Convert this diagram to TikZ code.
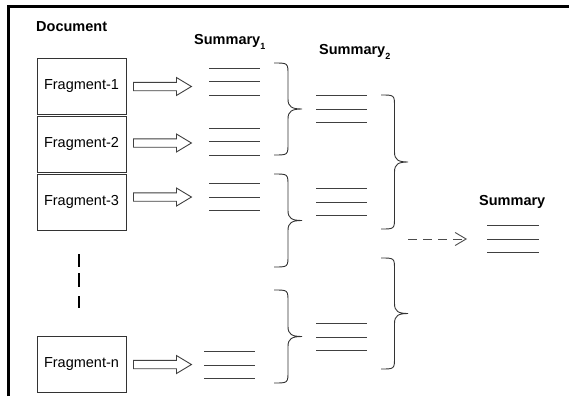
\documentclass[tikz,border=0pt]{standalone}
\usepackage{fontspec}
\setmainfont{Liberation Sans}
\usetikzlibrary{calc,arrows.meta}
\newcommand\mybrace[4]{%
  \pgfmathsetmacro\bv{#1+#4/2}%
  \pgfmathsetmacro\bt{#1+#4}%
  \pgfmathsetmacro\bm{(#2+#3)/2}%
  \draw[bracestyle] (#1,#2) .. controls (\bv,#2) .. (\bv,#2+12) -- (\bv,\bm-10)
    .. controls (\bv,\bm-2) and (\bv+4,\bm) .. (\bt,\bm)
    .. controls (\bv+4,\bm) and (\bv,\bm+2) .. (\bv,\bm+10) -- (\bv,#3-12)
    .. controls (\bv,#3) .. (#1,#3);}
\newcommand\grp[4][51]{%
  \node[grpbox,minimum width=#1pt] (#2) at (#3,#4) {};
  \draw[sline] (#2.north west) -- (#2.north east);
  \draw[sline] (#2.west) -- (#2.east);
  \draw[sline] (#2.south west) -- (#2.south east);}
\newcommand\barrow[2]{%
  \draw[blockarrow] ($(#1.east)+(7,#2)$) ++(0,-4.2) -- ++(43,0) -- ++(0,-4.8)
    -- ++(15,9) -- ++(-15,9) -- ++(0,-4.8) -- ++(-43,0) -- cycle;}
\tikzset{
  frag/.style={draw=black!80, line width=0.9pt, minimum width=89pt, minimum height=56pt, inner sep=0pt,
    font=\fontsize{14.5}{17}\selectfont},
  grpbox/.style={minimum height=27pt, inner sep=0pt, outer sep=0pt},
  sline/.style={line width=0.9pt, draw=black!75},
  bracestyle/.style={line width=0.9pt, draw=black!80},
  blockarrow/.style={line width=0.9pt, draw=black!75, fill=white, line join=miter},
  lbl/.style={font=\fontsize{14.5}{17}\selectfont\bfseries, anchor=base west, inner sep=0pt},
}
\newcommand\subs[1]{\raisebox{-5pt}{\fontsize{9}{10}\selectfont\bfseries #1}}
\begin{document}
\begin{tikzpicture}[x=1pt,y=-1pt]
\useasboundingbox (0,0) rectangle (569,396);
% frame
\draw[line width=2.6pt] (8.7,396) -- (8.7,6.5) -- (569,6.5);
% labels
\node[lbl] (ldoc) at (36,32) {Document};
\node[lbl] (ls1) at (194,45) {Summary\subs{1}};
\node[lbl] (ls2) at (319,55) {Summary\subs{2}};
\node[lbl] (lsum) at (479,205) {Summary};
% fragments
\node[frag] (f1) at (81.5,86) {Fragment-1};
\node[frag] (f2) at (81.5,144) {Fragment-2};
\node[frag] (f3) at (81.5,202) {Fragment-3};
\node[frag] (fn) at (81.5,364.5) {Fragment-n};
% vertical dashes
\coordinate (d1) at (79,254);
\draw[line width=2pt] (d1) -- ++(0,13) ++(0,6) -- ++(0,14) ++(0,9) -- ++(0,12);
% summary line groups
\grp{s11}{234.5}{81.5}
\grp{s12}{234.5}{141.5}
\grp{s13}{234.5}{197}
\grp{s1n}{229.5}{365}
\grp{s21}{341.5}{109}
\grp{s22}{341.5}{202}
\grp{s23}{341.5}{337}
\grp[52]{sf}{513}{239}
% block arrows
\barrow{f1}{0.5}
\barrow{f2}{-1}
\barrow{f3}{-5}
\barrow{fn}{0}
% braces
\mybrace{274}{63}{155}{28}
\mybrace{274}{174}{267}{28}
\mybrace{274}{290}{383}{28}
\mybrace{381}{95}{229}{27}
\mybrace{381}{258}{369}{27}
% dashed arrow
\coordinate (da) at (408,239);
\draw[line width=0.9pt, draw=black!70, dash pattern=on 9pt off 6pt,
  -{Straight Barb[length=11pt,width=13pt]}] (da) -- ($(sf.west)+(-20,0)$);
\end{tikzpicture}
\end{document}
